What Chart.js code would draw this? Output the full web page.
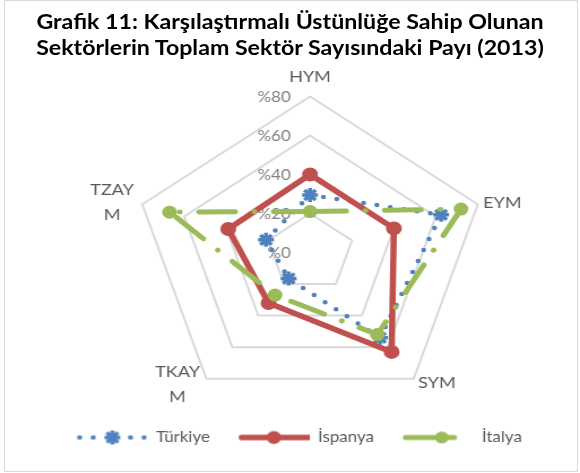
<!DOCTYPE html>
<html>
<head>
<meta charset="utf-8">
<script src="https://cdn.jsdelivr.net/npm/chart.js@4.4.1/dist/chart.umd.min.js"></script>
<style>
  html, body { margin: 0; padding: 0; background: #ffffff; }
  body { width: 580px; height: 473px; position: relative; overflow: hidden; }
  #frame { position: absolute; left: 4px; top: 0px; width: 574px; height: 472px; box-sizing: border-box; border: 1.5px solid #d9d9d9; pointer-events: none; }
  #wrap { position: absolute; left: 0; top: 0; width: 513px; height: 473px; transform: scaleX(1.1306); transform-origin: 0 0; }
  #title { position: absolute; left: 0; top: 8px; width: 513px; text-align: center; font-family: Lato, "Liberation Sans", sans-serif; font-weight: bold; font-size: 20.5px; line-height: 26px; color: #000000; white-space: nowrap; }
  canvas { position: absolute; left: 0; top: 0; }
</style>
</head>
<body>
<div id="wrap">
  <canvas id="c" width="513" height="473"></canvas>
  <div id="title">Grafik 11: Karşılaştırmalı Üstünlüğe Sahip Olunan<br>Sektörlerin Toplam Sektör Sayısındaki Payı (2013)</div>
</div>
<div id="frame"></div>
<script>
// ---- data ----
const categories = ['HYM', 'EYM', 'SYM', ['TKAY', 'M'], ['TZAY', 'M']];
const seriesNames = ['Türkiye', 'İspanya', 'İtalya'];
const turkiye = [29.5, 62.5, 54, 16.5, 21];
const ispanya = [40, 40, 63, 32, 39];
const italya = [21, 72, 52, 27, 67];
const tickValues = [0, 20, 40, 60, 80];
const tickLabels = ['%0', '%20', '%40', '%60', '%80'];

// ---- layout / style ----
const GEOM = { cx: 274.2, cy: 252.5, r: 156 };
const PL_FONT = { family: 'Lato', size: 16, lineHeight: 1.5625 };
const PL_LINE = 25;
const labelLayout = [
  { align: 'center', dx: 0, dy: -32 },
  { align: 'left', dx: 4.6, dy: -14 },
  { align: 'left', dx: 3.8, dy: -8.5 },
  { align: 'center', dx: -25.5, dy: -19.5 },
  { align: 'center', dx: -26.7, dy: -26.5 }
];
const BLUE = '#4f81bd', RED = '#c0504d', GREEN = '#9bbb59';
const STAR = { radius: 7, width: 3.5 };

function swatch(kind) {
  const c = document.createElement('canvas');
  c.width = 63; c.height = 16;
  const g = c.getContext('2d');
  const y = 8;
  g.lineCap = 'round';
  if (kind === 0) {
    g.fillStyle = BLUE;
    [3, 15, 48, 60].forEach(x => { g.beginPath(); g.arc(x, y, 2.3, 0, Math.PI * 2); g.fill(); });
    g.strokeStyle = BLUE; g.fillStyle = BLUE; g.lineWidth = STAR.width; g.lineCap = 'butt';
    Chart.helpers.drawPoint(g, { pointStyle: 'star', radius: STAR.radius, rotation: 0, borderWidth: STAR.width }, 32, y);
  } else if (kind === 1) {
    g.strokeStyle = RED; g.lineWidth = 5.5;
    g.beginPath(); g.moveTo(3, y); g.lineTo(62, y); g.stroke();
    g.fillStyle = RED; g.beginPath(); g.arc(31.5, y, 6.5, 0, Math.PI * 2); g.fill();
  } else {
    g.strokeStyle = GREEN; g.lineWidth = 5;
    g.beginPath(); g.moveTo(3, y); g.lineTo(46, y); g.stroke();
    g.fillStyle = GREEN; g.beginPath(); g.arc(35, y, 6, 0, Math.PI * 2); g.fill();
  }
  return c;
}
const swatches = [swatch(0), swatch(1), swatch(2)];

const tickLabelPlugin = {
  id: 'tickLabelsLeft',
  beforeDatasetsDraw(chart) {
    const s = chart.scales.r;
    const ctx = chart.ctx;
    ctx.save();
    ctx.font = '15px Lato';
    ctx.fillStyle = '#808080';
    ctx.textAlign = 'right';
    ctx.textBaseline = 'middle';
    tickValues.forEach((v, i) => {
      const d = s.getDistanceFromCenterForValue(v);
      ctx.fillText(tickLabels[i], s.xCenter - 17, s.yCenter - d + 1);
    });
    ctx.restore();
  }
};

new Chart(document.getElementById('c'), {
  type: 'radar',
  data: {
    labels: categories,
    datasets: [
      {
        label: seriesNames[0], data: turkiye, order: 3,
        borderColor: BLUE, borderWidth: 4.5, borderDash: [0, 12], borderCapStyle: 'round', borderJoinStyle: 'round',
        fill: false, pointStyle: 'star', pointRadius: STAR.radius, pointBorderWidth: STAR.width,
        pointBorderColor: BLUE, pointBackgroundColor: BLUE
      },
      {
        label: seriesNames[1], data: ispanya, order: 2,
        borderColor: RED, borderWidth: 5.5, borderJoinStyle: 'round',
        fill: false, pointStyle: 'circle', pointRadius: 7, pointBorderWidth: 0,
        pointBackgroundColor: RED, pointBorderColor: RED
      },
      {
        label: seriesNames[2], data: italya, order: 1,
        borderColor: GREEN, borderWidth: 5, borderDash: [32, 17, 0.1, 17], borderCapStyle: 'round', borderJoinStyle: 'round',
        fill: false, pointStyle: 'circle', pointRadius: 6.5, pointBorderWidth: 0,
        pointBackgroundColor: GREEN, pointBorderColor: GREEN
      }
    ]
  },
  options: {
    responsive: false,
    animation: false,
    devicePixelRatio: 1,
    layout: { padding: { left: 16, right: 0, top: 0, bottom: 18 } },
    elements: { line: { tension: 0 } },
    datasets: { radar: { clip: false } },
    scales: {
      r: {
        min: 0, max: 80,
        ticks: { stepSize: 20, display: false },
        grid: { color: '#d9d9d9', lineWidth: 2 },
        angleLines: { display: false },
        pointLabels: { display: true, color: '#595959', font: PL_FONT, padding: 8 },
        beforeFit(scale) {
          scale.setCenterPoint = function () {
            this.xCenter = GEOM.cx; this.yCenter = GEOM.cy; this.drawingArea = GEOM.r;
          };
        },
        afterFit(scale) {
          const items = scale._pointLabelItems || [];
          items.forEach((it, i) => {
            const v = scale.getPointPosition(i, scale.drawingArea);
            const L = labelLayout[i];
            const lines = Array.isArray(categories[i]) ? categories[i].length : 1;
            const w = it.right - it.left;
            it.textAlign = L.align;
            it.x = v.x + L.dx;
            it.y = v.y + L.dy;
            it.top = it.y; it.bottom = it.y + lines * PL_LINE;
            it.left = L.align === 'left' ? it.x : (L.align === 'right' ? it.x - w : it.x - w / 2);
            it.right = it.left + w;
          });
        }
      }
    },
    plugins: {
      title: { display: false },
      tooltip: { enabled: false },
      legend: {
        display: true,
        position: 'bottom',
        labels: {
          usePointStyle: true,
          pointStyleWidth: 63,
          padding: 25,
          color: '#595959',
          font: { family: 'Lato', size: 15 },
          sort: (a, b) => a.datasetIndex - b.datasetIndex,
          generateLabels(chart) {
            const items = Chart.defaults.plugins.legend.labels.generateLabels(chart);
            items.forEach(it => { it.pointStyle = swatches[it.datasetIndex]; });
            return items;
          }
        }
      }
    }
  },
  plugins: [tickLabelPlugin]
});
</script>
</body>
</html>
